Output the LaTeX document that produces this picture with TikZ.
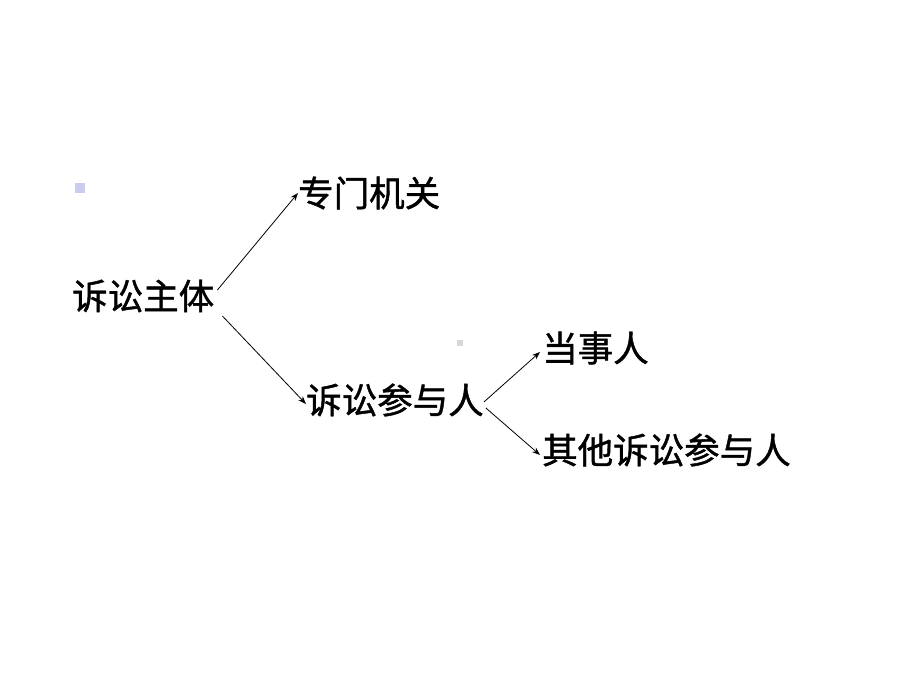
\documentclass[tikz,border=0pt]{standalone}
\usepackage{fontspec}
\newfontfamily\cjk[FakeBold=1.2]{Noto Sans CJK SC}
\usetikzlibrary{arrows.meta,calc}
\definecolor{bulletc}{RGB}{204,204,240}
\definecolor{dotc}{RGB}{215,215,215}
\tikzset{
  lbl/.style={anchor=west,inner sep=0pt,font=\cjk\fontsize{35.5}{35.5}\selectfont},
  arr/.style={draw=black,line width=0.8pt,-{Stealth[length=8pt,width=6pt]}}
}
\begin{document}
\begin{tikzpicture}[x=1pt,y=-1pt]
\useasboundingbox[fill=white] (0,0) rectangle (920,690);
\fill[bulletc] (75,183) rectangle (85,193);
\fill[dotc] (457,340) rectangle (463,346);
\node[lbl] (zt) at (72,296) {诉讼主体};
\node[lbl] (zm) at (298,193) {专门机关};
\node[lbl] (cy) at (306,400) {诉讼参与人};
\node[lbl] (ds) at (542,348) {当事人};
\node[lbl] (qt) at (542,450) {其他诉讼参与人};
\draw[arr] ($(zt.east)+(3,-6)$) -- (zm.west);
\draw[arr] ($(zt.east)+(8,20)$) -- ($(cy.west)+(0,4)$);
\draw[arr] ($(cy.east)+(0,2)$) -- ($(ds.west)+(-2,4)$);
\draw[arr] ($(cy.east)+(2,8)$) -- ($(qt.west)+(-2,5)$);
\end{tikzpicture}
\end{document}
